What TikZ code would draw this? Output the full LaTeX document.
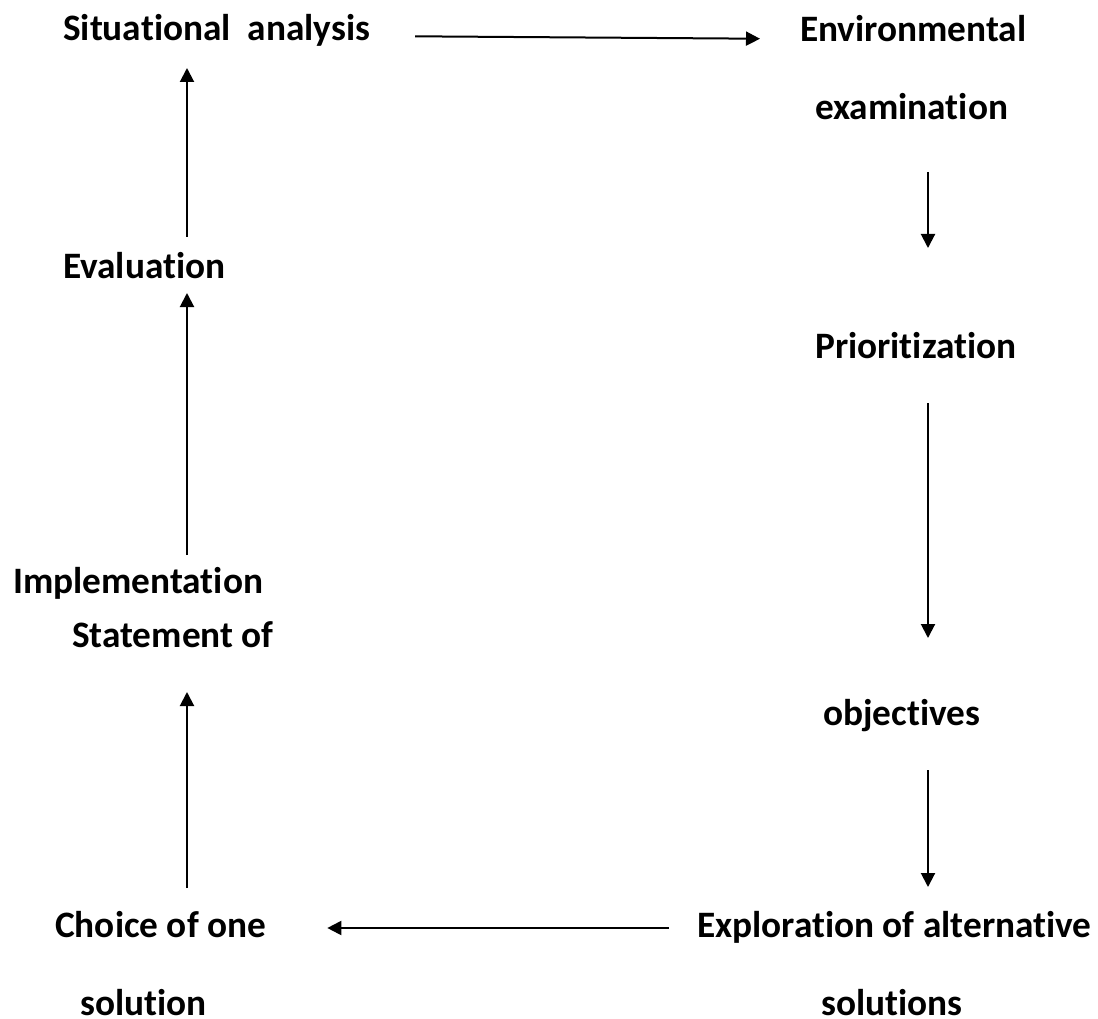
\documentclass[tikz,border=0pt]{standalone}
\usepackage{fontspec}
\setmainfont[RawFeature={-liga;-clig}]{Carlito}
\usetikzlibrary{arrows.meta}
\begin{document}
\begin{tikzpicture}[x=1pt,y=-1pt,
  lbl/.style={anchor=base west,inner sep=0pt,font=\fontsize{37.3}{44}\selectfont\bfseries},
  arr/.style={line width=2pt,-{Triangle[length=14pt,width=14pt]}}]
\useasboundingbox (0,0) rectangle (1098,1019);
\coordinate (xl) at (187,0);
\coordinate (xr) at (928,0);
\node[lbl] (sit) at (63,41) {Situational\ \ analysis};
\node[lbl] (env) at (800,42) {Environmental};
\node[lbl] (exam) at (815,120) {examination};
\node[lbl] (prio) at (815,358) {Prioritization};
\node[lbl] (obj) at (823,725) {objectives};
\node[lbl] (expl) at (697,937) {Exploration of alternative};
\node[lbl] (sols) at (821,1015) {solutions};
\node[lbl] (choice) at (55,937) {Choice of one};
\node[lbl] (sol) at (80,1015) {solution};
\node[lbl] (stmt) at (72,647) {Statement of};
\node[lbl] (impl) at (13,593) {Implementation};
\node[lbl] (eval) at (63,278) {Evaluation};
% connectors
\draw[arr,shorten <=45pt,shorten >=40pt] ([yshift=5pt]sit.base east) -- ([yshift=3pt]env.base west);
\draw[arr,shorten <=52pt,shorten >=110pt] (exam.base -| xr) -- (prio.base -| xr);
\draw[arr,shorten <=45pt,shorten >=87pt] (prio.base -| xr) -- (obj.base -| xr);
\draw[arr,shorten <=45pt,shorten >=50pt] (obj.base -| xr) -- (expl.base -| xr);
\draw[arr,shorten <=28pt,shorten >=61pt] ([yshift=9pt]expl.base west) -- ([yshift=9pt]choice.base east);
\draw[arr,shorten <=49pt,shorten >=45pt] (choice.base -| xl) -- (stmt.base -| xl);
\draw[arr,shorten <=38pt,shorten >=15pt] (impl.base -| xl) -- (eval.base -| xl);
\draw[arr,shorten <=41pt,shorten >=27pt] (eval.base -| xl) -- (sit.base -| xl);
\end{tikzpicture}
\end{document}
